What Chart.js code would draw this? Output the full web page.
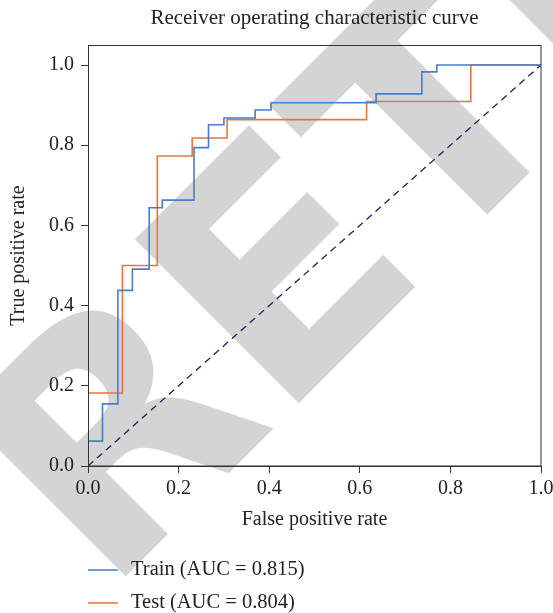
<!DOCTYPE html>
<html>
<head>
<meta charset="utf-8">
<script src="https://cdn.jsdelivr.net/npm/chart.js@4.4.1/dist/chart.umd.min.js"></script>
<style>
  html, body { margin: 0; padding: 0; background: #fff; }
  #wrap { width: 553px; height: 613px; }
</style>
</head>
<body>
<div id="wrap"><canvas id="roc" width="553" height="613"></canvas></div>
<script>
// ROC corner points
const trainFpr = [0, 0, 0.032, 0.032, 0.066, 0.066, 0.098, 0.098, 0.135, 0.135, 0.164, 0.164, 0.234, 0.234, 0.266, 0.266, 0.300, 0.300, 0.369, 0.369, 0.404, 0.404, 0.636, 0.636, 0.737, 0.737, 0.770, 0.770, 1.0];
const trainTpr = [0, 0.062, 0.062, 0.155, 0.155, 0.438, 0.438, 0.491, 0.491, 0.644, 0.644, 0.663, 0.663, 0.794, 0.794, 0.851, 0.851, 0.868, 0.868, 0.888, 0.888, 0.906, 0.906, 0.928, 0.928, 0.983, 0.983, 1.0, 1.0];
const testFpr = [0, 0, 0.076, 0.076, 0.153, 0.153, 0.230, 0.230, 0.307, 0.307, 0.615, 0.615, 0.845, 0.845, 1.0];
const testTpr = [0, 0.182, 0.182, 0.500, 0.500, 0.773, 0.773, 0.818, 0.818, 0.864, 0.864, 0.909, 0.909, 1.0, 1.0];
const chanceFpr = [0, 1];
const chanceTpr = [0, 1];

const seriesLabels = ["Train (AUC = 0.815)", "Test (AUC = 0.804)"];
const xTicks = [0, 0.2, 0.4, 0.6, 0.8, 1.0];
const yTicks = [0, 0.2, 0.4, 0.6, 0.8, 1.0];

const serif = "'Liberation Serif', 'DejaVu Serif', serif";
const ink = "#222";

function pts(xs, ys) {
  return xs.map((x, i) => ({ x: x, y: ys[i] }));
}

// grey "RETRACTED" stamp behind the plot
const watermark = {
  id: "watermark",
  beforeDraw(chart) {
    const ctx = chart.ctx;
    ctx.save();
    ctx.translate(105, 597);
    ctx.rotate(-Math.PI / 4);
    ctx.fillStyle = "#d4d4d4";
    ctx.font = "bold 318px 'DejaVu Sans', sans-serif";
    ctx.textBaseline = "alphabetic";
    ctx.fillText("RETRACTED", 0, 0);
    ctx.restore();
  }
};

// title, box frame and the stacked legend
const extras = {
  id: "extras",
  afterDraw(chart) {
    const ctx = chart.ctx;
    const a = chart.chartArea;
    ctx.save();
    ctx.strokeStyle = "#333";
    ctx.lineWidth = 1;
    ctx.strokeRect(a.left + 0.5, a.top + 0.5, a.right - a.left - 0.5, a.bottom - a.top - 0.5);

    ctx.fillStyle = ink;
    ctx.font = "21px " + serif;
    ctx.textAlign = "center";
    ctx.textBaseline = "middle";
    ctx.fillText("Receiver operating characteristic curve", (a.left + a.right) / 2, 18);

    ctx.font = "20.5px " + serif;
    ctx.textAlign = "left";
    const rows = [570, 603];
    chart.data.datasets.slice(0, 2).forEach((ds, i) => {
      ctx.strokeStyle = ds.borderColor;
      ctx.lineWidth = 1.5;
      ctx.beginPath();
      ctx.moveTo(88, rows[i]);
      ctx.lineTo(118, rows[i]);
      ctx.stroke();
      ctx.fillStyle = ink;
      ctx.fillText(ds.label, 131, rows[i]);
    });
    ctx.restore();
  }
};

new Chart(document.getElementById("roc"), {
  type: "scatter",
  data: {
    datasets: [
      {
        label: seriesLabels[0],
        data: pts(trainFpr, trainTpr),
        showLine: true,
        borderColor: "#4a7cc8",
        borderWidth: 1.6,
        pointRadius: 0,
        fill: false
      },
      {
        label: seriesLabels[1],
        data: pts(testFpr, testTpr),
        showLine: true,
        borderColor: "#e0783c",
        borderWidth: 1.6,
        pointRadius: 0,
        fill: false
      },
      {
        label: "chance",
        data: pts(chanceFpr, chanceTpr),
        showLine: true,
        borderColor: "#1f1d5a",
        borderWidth: 1.3,
        borderDash: [7, 5],
        pointRadius: 0,
        fill: false
      }
    ]
  },
  options: {
    responsive: false,
    animation: false,
    layout: { padding: { left: 3, top: 45, right: 12, bottom: 77 } },
    plugins: {
      legend: { display: false },
      tooltip: { enabled: false }
    },
    scales: {
      x: {
        type: "linear",
        min: 0,
        max: 1,
        afterFit(s) { s.height = 70; s.paddingLeft = 0; s.paddingRight = 0; },
        afterBuildTicks(s) { s.ticks = xTicks.map(v => ({ value: v })); },
        grid: { drawOnChartArea: false, drawTicks: true, tickLength: 7, tickColor: "#333" },
        border: { color: "#333", width: 1 },
        ticks: {
          color: ink,
          padding: 4,
          maxRotation: 0,
          font: { family: serif, size: 20 },
          callback: v => v.toFixed(1)
        },
        title: { display: true, text: "False positive rate", color: ink, font: { family: serif, size: 20 } }
      },
      y: {
        type: "linear",
        min: 0,
        max: 1.05,
        afterFit(s) { s.width = 85; },
        afterBuildTicks(s) { s.ticks = yTicks.map(v => ({ value: v })); },
        grid: { drawOnChartArea: false, drawTicks: true, tickLength: 7, tickColor: "#333" },
        border: { color: "#333", width: 1 },
        ticks: {
          color: ink,
          padding: 7,
          font: { family: serif, size: 20 },
          callback: v => v.toFixed(1)
        },
        title: { display: true, text: "True positive rate", color: ink, font: { family: serif, size: 20 } }
      }
    }
  },
  plugins: [watermark, extras]
});
</script>
</body>
</html>
